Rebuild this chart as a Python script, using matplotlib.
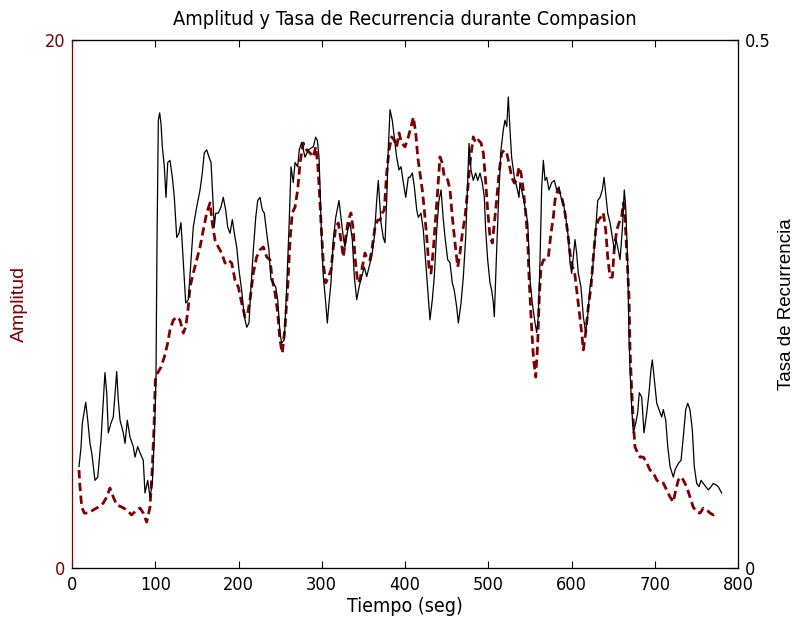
import matplotlib
matplotlib.use("Agg")
from matplotlib import pyplot as plt

# Amplitud (left axis, dashed dark red)
amp_t = [8.4, 9.6, 11.7, 14.8, 19.6, 25.6, 31.6, 37.6, 41.7, 45.6, 49.6, 53.7, 59.7, 65.7, 71.7,
         77.7, 81.7, 85.6, 89.7, 93.7, 96.5, 98.5, 100.1, 102.9, 106.9, 110.9, 115.0, 117.7, 121.7,
         125.8, 129.7, 133.7, 136.6, 139.7, 141.7, 145.7, 149.8, 153.8, 157.7, 161.8, 165.8, 168.5,
         171.8, 175.7, 179.8, 183.8, 187.7, 191.8, 195.8, 199.8, 203.8, 207.8, 211.1, 213.8, 217.8,
         221.8, 225.8, 229.8, 233.9, 237.9, 240.6, 243.9, 247.1, 249.8, 252.6, 255.9, 259.1, 261.9,
         264.6, 267.9, 271.1, 273.9, 277.8, 281.9, 285.9, 289.9, 292.7, 295.1, 297.1, 299.1, 301.9,
         304.8, 307.9, 311.1, 313.9, 316.8, 319.9, 323.1, 325.9, 328.8, 331.9, 335.1, 337.9, 339.9,
         343.2, 345.9, 348.7, 351.9, 355.2, 357.9, 360.7, 364.0, 367.2, 370.0, 372.7, 375.1, 378.0,
         380.8, 384.0, 387.1, 390.0, 392.8, 396.0, 400.0, 404.0, 407.2, 410.0, 412.9, 415.3, 418.0,
         420.8, 423.2, 426.1, 428.8, 431.2, 434.0, 436.9, 439.3, 442.0, 444.8, 447.2, 451.3, 454.1,
         456.8, 460.1, 463.3, 466.1, 468.9, 472.1, 475.3, 478.1, 482.0, 484.9, 488.1, 491.3, 494.1,
         497.0, 499.3, 502.1, 504.9, 507.3, 510.1, 512.9, 516.1, 519.3, 522.2, 524.9, 528.1, 531.3,
         534.2, 536.9, 539.3, 542.1, 545.0, 547.4, 549.0, 551.4, 554.2, 557.0, 559.4, 561.3, 563.4,
         566.2, 569.0, 572.2, 575.4, 578.2, 580.2, 583.4, 586.2, 589.0, 592.2, 595.5, 598.2, 601.0,
         603.4, 606.2, 609.0, 612.3, 614.2, 617.0, 620.2, 623.4, 626.2, 629.1, 632.2, 635.5, 638.2,
         641.1, 643.5, 646.3, 649.1, 651.5, 654.4, 657.1, 660.3, 662.2, 664.2, 666.7, 669.1, 670.3,
         672.3, 674.3, 676.3, 679.5, 682.3, 686.3, 690.4, 694.3, 698.3, 702.4, 706.3, 710.3, 714.3,
         718.4, 722.3, 725.2, 728.3, 731.6, 734.3, 738.4, 742.3, 746.2, 750.4, 754.4, 758.4, 762.5,
         766.5, 770.3, 774.4]
amp_v = [3.71, 3.07, 2.31, 2.08, 2.08, 2.20, 2.31, 2.46, 2.69, 3.03, 2.69, 2.39, 2.31, 2.20, 2.01,
         2.20, 2.27, 2.08, 1.74, 2.31, 3.83, 5.34, 7.12, 7.39, 7.61, 7.99, 8.52, 9.02, 9.39,
         9.51, 9.39, 8.90, 9.13, 9.89, 10.64, 11.17, 11.67, 12.16, 12.80, 13.45, 13.83, 13.07,
         12.42, 12.16, 11.93, 11.55, 11.67, 11.55, 10.91, 10.64, 10.04, 9.51, 9.66, 10.15, 11.17,
         11.78, 12.05, 12.16, 11.78, 11.67, 10.91, 10.42, 9.66, 8.64, 8.14, 9.13, 10.64, 12.42,
         13.45, 13.67, 14.32, 15.34, 16.10, 15.83, 15.72, 15.57, 15.95, 15.34, 14.32, 13.07, 11.55,
         10.80, 11.02, 11.29, 12.16, 12.92, 13.07, 12.42, 11.78, 12.54, 13.18, 13.45, 12.80, 11.78,
         10.80, 10.91, 11.40, 11.93, 11.67, 11.67, 12.16, 12.92, 13.18, 13.18, 13.45, 13.56, 14.96,
         15.83, 16.33, 16.21, 15.95, 16.48, 16.10, 15.95, 16.33, 16.70, 17.08, 16.48, 15.57, 14.96,
         14.32, 13.56, 12.54, 11.40, 11.17, 12.05, 13.30, 14.32, 15.57, 15.34, 14.81, 14.70, 14.32,
         13.30, 12.31, 11.40, 11.93, 12.69, 13.30, 14.32, 15.34, 16.33, 16.10, 16.21, 16.10, 15.72,
         14.58, 13.56, 12.54, 12.31, 13.07, 13.94, 14.96, 15.72, 15.83, 15.72, 15.34, 14.81, 14.58,
         14.70, 15.19, 14.96, 14.32, 13.45, 12.42, 11.02, 9.51, 7.99, 7.23, 8.52, 10.27, 11.40,
         11.67, 11.67, 11.78, 12.69, 13.30, 13.94, 14.32, 14.20, 13.94, 13.45, 12.69, 11.93, 11.40,
         11.29, 10.53, 9.77, 8.90, 8.26, 8.90, 9.89, 10.64, 11.78, 12.80, 13.18, 13.30, 13.45,
         12.80, 11.78, 11.02, 11.02, 12.16, 12.80, 13.07, 13.30, 13.83, 13.30, 11.78, 10.27, 8.26,
         6.74, 5.49, 4.58, 4.36, 4.20, 4.20, 3.98, 3.71, 3.60, 3.33, 3.22, 3.22, 2.95,
         2.69, 2.50, 2.95, 3.33, 3.45, 3.33, 3.07, 2.69, 2.31, 2.12, 2.08, 2.27, 2.20,
         2.08, 2.01, 2.12]

# Tasa de Recurrencia (right axis, solid black)
rec_t = [8.4, 10.8, 12.4, 16.5, 18.9, 21.6, 23.7, 27.6, 30.9, 34.8, 37.6, 39.6, 41.7, 43.6, 46.8,
         49.6, 53.7, 55.6, 57.7, 61.6, 63.7, 66.4, 69.7, 73.6, 75.7, 78.9, 81.7, 85.6, 87.7, 90.9,
         93.7, 96.5, 98.9, 100.9, 102.1, 103.7, 105.3, 106.9, 108.5, 110.9, 112.9, 115.0, 117.7,
         120.5, 122.9, 125.8, 128.5, 130.9, 133.7, 136.6, 139.7, 143.8, 145.7, 149.8, 153.8, 156.5,
         158.9, 161.8, 164.6, 167.0, 168.5, 170.9, 172.6, 175.7, 179.0, 181.7, 184.6, 187.0, 189.8,
         192.6, 195.0, 197.8, 200.6, 203.8, 207.0, 209.9, 212.6, 215.0, 217.8, 220.7, 223.1, 225.8,
         228.6, 231.0, 233.9, 236.6, 239.0, 241.8, 244.7, 247.1, 249.8, 251.8, 255.0, 257.9, 260.7,
         263.1, 265.8, 267.9, 271.1, 273.0, 275.9, 279.9, 283.9, 289.9, 292.7, 294.7, 296.7, 297.9,
         299.9, 301.9, 304.8, 306.7, 308.7, 311.1, 313.9, 316.8, 320.7, 323.1, 325.9, 327.9, 331.2,
         333.9, 336.7, 339.1, 342.0, 344.8, 348.0, 351.1, 354.0, 356.8, 360.0, 363.1, 366.0, 367.9,
         371.2, 373.9, 376.0, 378.0, 379.9, 382.0, 384.7, 387.1, 390.0, 392.8, 395.2, 398.0, 400.9,
         404.0, 406.0, 408.8, 411.2, 414.1, 416.0, 419.2, 422.0, 424.9, 427.3, 430.0, 432.8, 435.2,
         438.1, 440.8, 443.3, 446.0, 448.1, 451.3, 454.1, 456.8, 459.2, 462.1, 464.1, 467.3, 470.1,
         472.9, 475.3, 476.9, 479.3, 482.0, 484.9, 487.3, 490.1, 492.8, 495.3, 496.9, 499.3, 502.1,
         504.1, 506.1, 507.3, 510.1, 512.9, 515.3, 518.1, 520.1, 522.2, 524.1, 526.1, 528.1, 531.3,
         534.2, 536.9, 538.1, 540.9, 544.1, 547.4, 550.2, 552.9, 556.2, 558.2, 560.1, 562.2, 564.2,
         566.2, 568.2, 570.2, 573.0, 576.2, 579.4, 582.2, 585.0, 587.4, 590.2, 593.1, 596.2, 598.2,
         600.2, 602.2, 604.2, 606.2, 608.2, 611.4, 614.2, 617.0, 619.4, 622.2, 625.0, 628.2, 631.5,
         634.3, 637.0, 639.1, 641.1, 643.5, 646.3, 649.1, 651.5, 653.5, 656.2, 658.3, 661.0, 663.4,
         665.1, 667.5, 669.1, 670.3, 672.3, 674.3, 677.1, 679.5, 681.4, 684.3, 687.1, 690.4, 693.1,
         695.5, 697.1, 699.5, 702.4, 705.1, 708.4, 710.3, 713.2, 715.6, 718.4, 722.3, 724.4, 728.3,
         731.6, 734.3, 737.2, 739.6, 742.3, 745.1, 747.5, 750.4, 753.2, 755.6, 758.4, 761.2, 764.4,
         767.6, 770.3, 773.2, 776.3, 780.4]
rec_v = [0.096, 0.114, 0.137, 0.157, 0.140, 0.118, 0.109, 0.083, 0.086, 0.121, 0.159, 0.185, 0.166, 0.128, 0.137,
         0.143, 0.186, 0.159, 0.140, 0.128, 0.118, 0.140, 0.124, 0.115, 0.105, 0.115, 0.109, 0.102, 0.071, 0.083,
         0.067, 0.080, 0.124, 0.181, 0.308, 0.424, 0.431, 0.421, 0.399, 0.380, 0.351, 0.384, 0.386,
         0.370, 0.351, 0.313, 0.317, 0.327, 0.289, 0.251, 0.254, 0.301, 0.323, 0.342, 0.358, 0.374,
         0.393, 0.396, 0.389, 0.384, 0.361, 0.323, 0.336, 0.336, 0.342, 0.351, 0.339, 0.323, 0.317,
         0.330, 0.317, 0.304, 0.282, 0.263, 0.238, 0.228, 0.232, 0.266, 0.301, 0.332, 0.348, 0.351,
         0.339, 0.336, 0.317, 0.301, 0.273, 0.270, 0.266, 0.254, 0.223, 0.213, 0.216, 0.266, 0.323,
         0.380, 0.365, 0.384, 0.380, 0.396, 0.403, 0.389, 0.396, 0.399, 0.408, 0.405, 0.389, 0.361,
         0.308, 0.276, 0.251, 0.232, 0.251, 0.270, 0.311, 0.332, 0.348, 0.332, 0.313, 0.304, 0.320,
         0.327, 0.311, 0.276, 0.254, 0.266, 0.276, 0.285, 0.276, 0.285, 0.295, 0.313, 0.348, 0.367,
         0.327, 0.313, 0.308, 0.348, 0.396, 0.434, 0.424, 0.408, 0.389, 0.377, 0.380, 0.365, 0.351,
         0.370, 0.370, 0.374, 0.361, 0.339, 0.332, 0.336, 0.320, 0.289, 0.263, 0.235, 0.254, 0.276,
         0.320, 0.348, 0.358, 0.330, 0.313, 0.292, 0.289, 0.270, 0.263, 0.247, 0.232, 0.251, 0.276,
         0.313, 0.365, 0.402, 0.377, 0.367, 0.374, 0.367, 0.374, 0.365, 0.351, 0.320, 0.292, 0.270,
         0.263, 0.251, 0.238, 0.301, 0.358, 0.396, 0.415, 0.424, 0.418, 0.446, 0.415, 0.389, 0.370,
         0.361, 0.351, 0.365, 0.355, 0.342, 0.327, 0.273, 0.251, 0.232, 0.223, 0.238, 0.292, 0.361,
         0.386, 0.367, 0.370, 0.358, 0.365, 0.367, 0.358, 0.361, 0.351, 0.346, 0.332, 0.313, 0.289,
         0.279, 0.295, 0.311, 0.298, 0.279, 0.266, 0.238, 0.223, 0.238, 0.266, 0.279, 0.311, 0.348,
         0.351, 0.358, 0.370, 0.355, 0.336, 0.327, 0.313, 0.301, 0.311, 0.301, 0.292, 0.320, 0.358,
         0.342, 0.289, 0.219, 0.188, 0.152, 0.128, 0.137, 0.147, 0.166, 0.162, 0.128, 0.147, 0.166,
         0.188, 0.197, 0.178, 0.156, 0.150, 0.143, 0.150, 0.140, 0.115, 0.096, 0.086, 0.093, 0.099,
         0.102, 0.124, 0.150, 0.156, 0.150, 0.131, 0.096, 0.080, 0.077, 0.083, 0.080, 0.077, 0.074,
         0.077, 0.080, 0.079, 0.077, 0.071]

x_ticks = [0, 100, 200, 300, 400, 500, 600, 700, 800]

red = "#800000"
narrow = dict(family="DejaVu Sans", stretch="condensed")
plain = ["Liberation Sans", "DejaVu Sans"]

fig = plt.figure(figsize=(7.95, 6.24), dpi=100)
ax1 = fig.add_axes([72 / 795, 1 - 568 / 624, 666 / 795, 528 / 624])
ax2 = ax1.twinx()

ax1.plot(amp_t, amp_v, color=red, linestyle="--", linewidth=2.0, dashes=(3, 1.6))
ax2.plot(rec_t, rec_v, color="black", linewidth=0.9)

ax1.set_xlim(0, 800)
ax1.set_ylim(0, 20)
ax2.set_ylim(0, 0.5)
ax1.set_xticks(x_ticks)
ax1.set_xticklabels([str(t) for t in x_ticks], fontsize=13, **narrow)
ax1.set_yticks([0, 20])
ax1.set_yticklabels(["0", "20"], fontsize=13, color=red, **narrow)
ax2.set_yticks([0, 0.5])
ax2.set_yticklabels(["0", "0.5"], fontsize=13, **narrow)

ax1.tick_params(axis="x", direction="in", top=True, length=5, width=0.8, pad=6)
ax1.tick_params(axis="y", direction="in", colors=red, length=5, width=0.8, pad=5)
ax2.tick_params(axis="y", direction="in", length=5, width=0.8, pad=5)

ax1.spines["left"].set_color(red)
ax2.spines["left"].set_visible(False)
ax1.spines["right"].set_visible(False)
for s in ["top", "bottom", "left"]:
    ax1.spines[s].set_linewidth(0.9)
ax2.spines["right"].set_linewidth(0.9)

ax1.set_xlabel("Tiempo (seg)", fontsize=14, labelpad=2, **narrow)
ax1.set_ylabel("Amplitud", family=plain, fontsize=14, color=red, labelpad=12)
ax2.set_ylabel("Tasa de Recurrencia", family=plain, fontsize=13.5, labelpad=5)
ax1.set_title("Amplitud y Tasa de Recurrencia durante Compasion", fontsize=14.3, pad=11, **narrow)

fig.savefig("out.png", dpi=100)
